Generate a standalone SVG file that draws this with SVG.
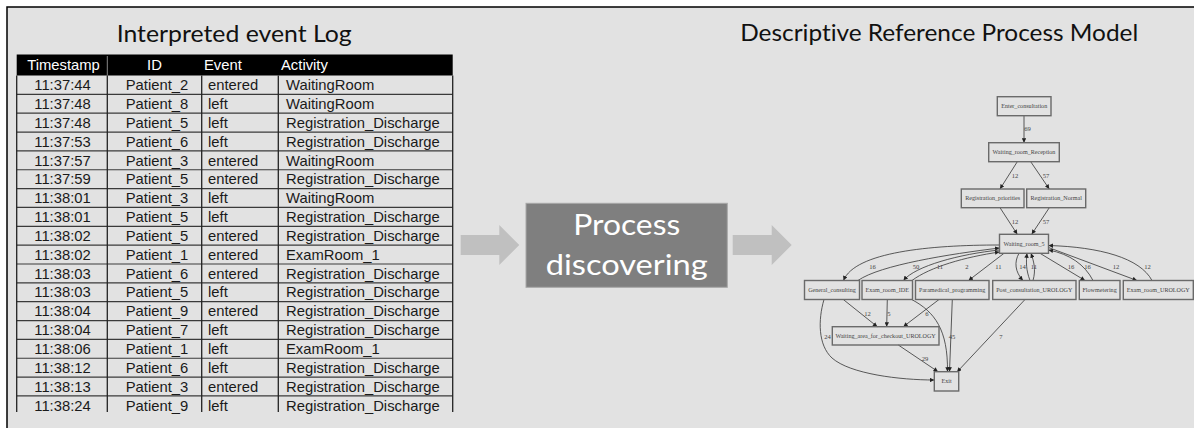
<svg xmlns="http://www.w3.org/2000/svg" width="1194" height="428" viewBox="0 0 1194 428">
<defs>
<style>
.ttl{font-family:Lato,"Open Sans","Liberation Sans",sans-serif;font-size:24px;fill:#111;text-anchor:middle;font-variant-ligatures:none}
.th{font-family:"Liberation Sans",Arial,sans-serif;font-size:14.8px;fill:#fff}
.td{font-family:"Liberation Sans",Arial,sans-serif;font-size:14.8px;fill:#1a1a1a}
.c{text-anchor:middle}
.hl{stroke:#3a3a3a;stroke-width:1.2}
.vl{stroke:#222;stroke-width:1.3}
.big{fill:#c0c0c0}
.pt{font-family:Lato,"Open Sans","Liberation Sans",sans-serif;font-size:29px;fill:#fff;text-anchor:middle;font-variant-ligatures:none}
.nd rect{fill:none;stroke:#6a6a6a;stroke-width:1.4}
.nd text{font-family:"Liberation Serif","Times New Roman",serif;font-size:6.1px;fill:#444;text-anchor:middle}
.ed path{fill:none;stroke:#333;stroke-width:0.8;marker-end:url(#ah)}
.el{font-family:"Liberation Serif","Times New Roman",serif;font-size:6.6px;fill:#444;text-anchor:middle}
</style>
<marker id="ah" viewBox="0 0 10 10" refX="10" refY="5" markerWidth="5" markerHeight="4.5" markerUnits="userSpaceOnUse" orient="auto"><path d="M0,0 L10,5 L0,10 z" fill="#222"/></marker>
</defs>
<rect x="0" y="0" width="1194" height="428" fill="#fff"/>
<rect x="7" y="7" width="1200" height="430" fill="#e2e2e2" stroke="#000" stroke-width="1.5"/>

<text class="ttl" x="234.2" y="41.5" textLength="235" lengthAdjust="spacingAndGlyphs">Interpreted event Log</text>
<text class="ttl" x="939.2" y="41" textLength="398" lengthAdjust="spacingAndGlyphs">Descriptive Reference Process Model</text>

<g id="event-log">
<rect x="16.7" y="54.5" width="436" height="21" fill="#000"/>
<line x1="107.3" y1="56" x2="107.3" y2="75.5" stroke="#888" stroke-width="1"/>
<text class="th c" x="63.5" y="70.2">Timestamp</text>
<text class="th c" x="154.5" y="70.2">ID</text>
<text class="th" x="204" y="70.2">Event</text>
<text class="th" x="281" y="70.2">Activity</text>
<g>
<line class="hl" x1="16.7" y1="94.35" x2="452.7" y2="94.35"/>
<line class="hl" x1="16.7" y1="113.2" x2="452.7" y2="113.2"/>
<line class="hl" x1="16.7" y1="132.05" x2="452.7" y2="132.05"/>
<line class="hl" x1="16.7" y1="150.9" x2="452.7" y2="150.9"/>
<line class="hl" x1="16.7" y1="169.75" x2="452.7" y2="169.75"/>
<line class="hl" x1="16.7" y1="188.6" x2="452.7" y2="188.6"/>
<line class="hl" x1="16.7" y1="207.45" x2="452.7" y2="207.45"/>
<line class="hl" x1="16.7" y1="226.3" x2="452.7" y2="226.3"/>
<line class="hl" x1="16.7" y1="245.15" x2="452.7" y2="245.15"/>
<line class="hl" x1="16.7" y1="264" x2="452.7" y2="264"/>
<line class="hl" x1="16.7" y1="282.85" x2="452.7" y2="282.85"/>
<line class="hl" x1="16.7" y1="301.7" x2="452.7" y2="301.7"/>
<line class="hl" x1="16.7" y1="320.55" x2="452.7" y2="320.55"/>
<line class="hl" x1="16.7" y1="339.4" x2="452.7" y2="339.4"/>
<line class="hl" x1="16.7" y1="358.25" x2="452.7" y2="358.25"/>
<line class="hl" x1="16.7" y1="377.1" x2="452.7" y2="377.1"/>
<line class="hl" x1="16.7" y1="395.95" x2="452.7" y2="395.95"/>
<line class="vl" x1="16.7" y1="75.5" x2="16.7" y2="412"/>
<line class="vl" x1="107.3" y1="75.5" x2="107.3" y2="412"/>
<line class="vl" x1="201.7" y1="75.5" x2="201.7" y2="412"/>
<line class="vl" x1="278.3" y1="75.5" x2="278.3" y2="412"/>
<line class="vl" x1="452.7" y1="75.5" x2="452.7" y2="412"/>
</g>
<g>
<text class="td c" x="62.5" y="90.1">11:37:44</text><text class="td c" x="157" y="90.1">Patient_2</text><text class="td" x="208" y="90.1">entered</text><text class="td" x="286" y="90.1">WaitingRoom</text>
<text class="td c" x="62.5" y="108.95">11:37:48</text><text class="td c" x="157" y="108.95">Patient_8</text><text class="td" x="208" y="108.95">left</text><text class="td" x="286" y="108.95">WaitingRoom</text>
<text class="td c" x="62.5" y="127.8">11:37:48</text><text class="td c" x="157" y="127.8">Patient_5</text><text class="td" x="208" y="127.8">left</text><text class="td" x="286" y="127.8">Registration_Discharge</text>
<text class="td c" x="62.5" y="146.65">11:37:53</text><text class="td c" x="157" y="146.65">Patient_6</text><text class="td" x="208" y="146.65">left</text><text class="td" x="286" y="146.65">Registration_Discharge</text>
<text class="td c" x="62.5" y="165.5">11:37:57</text><text class="td c" x="157" y="165.5">Patient_3</text><text class="td" x="208" y="165.5">entered</text><text class="td" x="286" y="165.5">WaitingRoom</text>
<text class="td c" x="62.5" y="184.35">11:37:59</text><text class="td c" x="157" y="184.35">Patient_5</text><text class="td" x="208" y="184.35">entered</text><text class="td" x="286" y="184.35">Registration_Discharge</text>
<text class="td c" x="62.5" y="203.2">11:38:01</text><text class="td c" x="157" y="203.2">Patient_3</text><text class="td" x="208" y="203.2">left</text><text class="td" x="286" y="203.2">WaitingRoom</text>
<text class="td c" x="62.5" y="222.05">11:38:01</text><text class="td c" x="157" y="222.05">Patient_5</text><text class="td" x="208" y="222.05">left</text><text class="td" x="286" y="222.05">Registration_Discharge</text>
<text class="td c" x="62.5" y="240.9">11:38:02</text><text class="td c" x="157" y="240.9">Patient_5</text><text class="td" x="208" y="240.9">entered</text><text class="td" x="286" y="240.9">Registration_Discharge</text>
<text class="td c" x="62.5" y="259.75">11:38:02</text><text class="td c" x="157" y="259.75">Patient_1</text><text class="td" x="208" y="259.75">entered</text><text class="td" x="286" y="259.75">ExamRoom_1</text>
<text class="td c" x="62.5" y="278.6">11:38:03</text><text class="td c" x="157" y="278.6">Patient_6</text><text class="td" x="208" y="278.6">entered</text><text class="td" x="286" y="278.6">Registration_Discharge</text>
<text class="td c" x="62.5" y="297.45">11:38:03</text><text class="td c" x="157" y="297.45">Patient_5</text><text class="td" x="208" y="297.45">left</text><text class="td" x="286" y="297.45">Registration_Discharge</text>
<text class="td c" x="62.5" y="316.3">11:38:04</text><text class="td c" x="157" y="316.3">Patient_9</text><text class="td" x="208" y="316.3">entered</text><text class="td" x="286" y="316.3">Registration_Discharge</text>
<text class="td c" x="62.5" y="335.15">11:38:04</text><text class="td c" x="157" y="335.15">Patient_7</text><text class="td" x="208" y="335.15">left</text><text class="td" x="286" y="335.15">Registration_Discharge</text>
<text class="td c" x="62.5" y="354">11:38:06</text><text class="td c" x="157" y="354">Patient_1</text><text class="td" x="208" y="354">left</text><text class="td" x="286" y="354">ExamRoom_1</text>
<text class="td c" x="62.5" y="372.85">11:38:12</text><text class="td c" x="157" y="372.85">Patient_6</text><text class="td" x="208" y="372.85">left</text><text class="td" x="286" y="372.85">Registration_Discharge</text>
<text class="td c" x="62.5" y="391.7">11:38:13</text><text class="td c" x="157" y="391.7">Patient_3</text><text class="td" x="208" y="391.7">entered</text><text class="td" x="286" y="391.7">Registration_Discharge</text>
<text class="td c" x="62.5" y="410.55">11:38:24</text><text class="td c" x="157" y="410.55">Patient_9</text><text class="td" x="208" y="410.55">left</text><text class="td" x="286" y="410.55">Registration_Discharge</text>
</g>
</g>

<g id="arrow-in"><polygon class="big" points="460.7,235 499.3,235 499.3,225 519.3,245 499.3,265 499.3,255 460.7,255"/></g>
<g id="process-discovering">
<rect x="526" y="203.3" width="201.3" height="84" fill="#7f7f7f" stroke="#a8a8a8" stroke-width="1"/>
<text class="pt" x="626.7" y="235" textLength="107" lengthAdjust="spacingAndGlyphs">Process</text>
<text class="pt" x="626.7" y="275" textLength="162" lengthAdjust="spacingAndGlyphs">discovering</text>
</g>
<g id="arrow-out"><polygon class="big" points="732.7,235 771.7,235 771.7,225 791.7,245 771.7,265 771.7,255 732.7,255"/></g>

<g id="connectors" class="ed">
<path d="M1024,115.7 L1024,142.7"/>
<path d="M1017.3,161.7 L1000,189"/>
<path d="M1030.7,161.7 L1049.3,189"/>
<path d="M1000,207.7 L1017.3,234.3"/>
<path d="M1049.3,207.7 L1031.7,234.3"/>
<path d="M999.5,245 C930,245 855,252 843.5,280.5"/>
<path d="M858,280.5 C880,265 950,254 999.5,248"/>
<path d="M999.5,250 C960,254 915,266 903.5,280.5"/>
<path d="M912,280.5 C930,267 965,257 999.5,252"/>
<path d="M1004,253.3 L968.5,280.5"/>
<path d="M1019,253.3 C1014,262 1015,272 1023,280.5"/>
<path d="M1030,280.5 C1026,270 1026,262 1027,253.3"/>
<path d="M1033,280.5 C1036,270 1034,262 1031,253.3"/>
<path d="M1040,253.3 L1085,280.5"/>
<path d="M1093,280.5 C1085,265 1070,254 1048.5,250"/>
<path d="M1048.5,247.5 L1137,280.5"/>
<path d="M1152,280.5 C1140,258 1100,247 1048.5,245.5"/>
<path d="M843.3,299.5 L877.3,326.7"/>
<path d="M887.3,299.5 L886.7,326.7"/>
<path d="M939,299.5 L903.3,326.7"/>
<path d="M911.7,299.5 C935,312 948,330 947.5,371.7"/>
<path d="M952.3,299.5 L949.5,371.7"/>
<path d="M824,299.5 C818,320 818,345 832,358 C850,374 900,380 934.3,380"/>
<path d="M898.3,345 L938,371.7"/>
<path d="M1025,299.5 L957,372"/>
<g>
<text class="el" x="1027.5" y="131">69</text>
<text class="el" x="1015" y="177.5">12</text>
<text class="el" x="1046" y="177.5">57</text>
<text class="el" x="1015" y="223.5">12</text>
<text class="el" x="1046" y="223.5">57</text>
<text class="el" x="872.5" y="269">16</text>
<text class="el" x="916" y="269">50</text>
<text class="el" x="940" y="269">11</text>
<text class="el" x="967" y="269">2</text>
<text class="el" x="998.5" y="269">11</text>
<text class="el" x="1022.5" y="269">14</text>
<text class="el" x="1034" y="269">11</text>
<text class="el" x="1071" y="269">16</text>
<text class="el" x="1087.5" y="269">16</text>
<text class="el" x="1116" y="269">12</text>
<text class="el" x="1147.5" y="269">12</text>
<text class="el" x="867.5" y="315.5">12</text>
<text class="el" x="889" y="315.5">5</text>
<text class="el" x="927" y="315.5">6</text>
<text class="el" x="827.5" y="338.5">24</text>
<text class="el" x="952" y="338.5">45</text>
<text class="el" x="1001" y="338.5">7</text>
<text class="el" x="925" y="360.5">29</text>
</g>
</g>

<g id="n-enter" class="nd"><rect x="997.3" y="96.7" width="53.7" height="19"/><text x="1024.2" y="108.2">Enter_consultation</text></g>
<g id="n-reception" class="nd"><rect x="988.7" y="142.7" width="70.6" height="19"/><text x="1024" y="154.2">Waiting_room_Reception</text></g>
<g id="n-reg-prio" class="nd"><rect x="961.3" y="189" width="62.7" height="18.7"/><text x="992.7" y="200.4">Registration_priorities</text></g>
<g id="n-reg-normal" class="nd"><rect x="1026.7" y="189" width="59" height="18.7"/><text x="1056.2" y="200.4">Registration_Normal</text></g>
<g id="n-wr5" class="nd"><rect x="999.5" y="234.3" width="49" height="19"/><text x="1024" y="245.8">Waiting_room_5</text></g>
<g id="n-general" class="nd"><rect x="804.5" y="280.5" width="55" height="19"/><text x="832" y="292">General_consulting</text></g>
<g id="n-exam-ide" class="nd"><rect x="862" y="280.5" width="50.5" height="19"/><text x="887.2" y="292">Exam_room_IDE</text></g>
<g id="n-paramedical" class="nd"><rect x="915.5" y="280.5" width="73.5" height="19"/><text x="952.2" y="292">Paramedical_programming</text></g>
<g id="n-post" class="nd"><rect x="992.7" y="280.5" width="83.3" height="19"/><text x="1034.3" y="292">Post_consultation_UROLOGY</text></g>
<g id="n-flow" class="nd"><rect x="1079.3" y="280.5" width="40.7" height="19"/><text x="1099.6" y="292">Flowmetering</text></g>
<g id="n-exam-uro" class="nd"><rect x="1123.3" y="280.5" width="70" height="19"/><text x="1158.3" y="292">Exam_room_UROLOGY</text></g>
<g id="n-checkout" class="nd"><rect x="832.3" y="326.7" width="106.7" height="18.3"/><text x="885.6" y="338">Waiting_area_for_checkout_UROLOGY</text></g>
<g id="n-exit" class="nd"><rect x="934.3" y="371.7" width="24.4" height="19.3"/><text x="946.5" y="383.4">Exit</text></g>
</svg>
